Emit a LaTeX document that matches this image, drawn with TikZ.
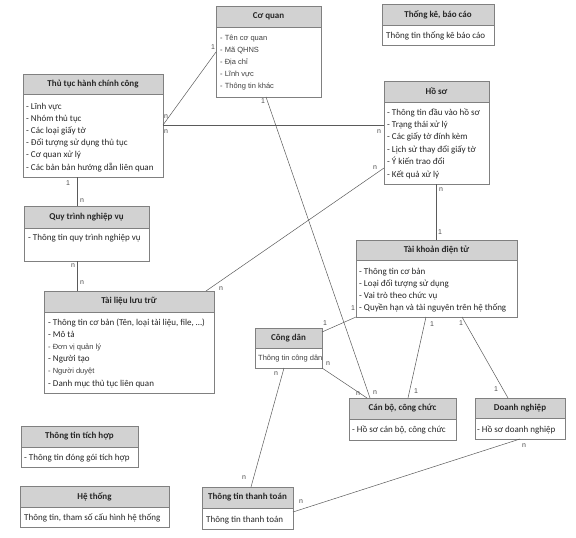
\documentclass[tikz,border=0pt]{standalone}
\usepackage{fontspec}
\setmainfont{Carlito}
\newfontfamily\thinfont{Liberation Sans}
\usepackage{tikz}
\usetikzlibrary{positioning}
\usepackage{xcolor}
\definecolor{hdrgray}{HTML}{D2D2D2}
\definecolor{boxgray}{HTML}{808080}
\definecolor{linegray}{HTML}{5A5A5A}
\newcommand\lite{\thinfont\fontsize{7.5}{9}\selectfont}

\begin{document}
\begin{tikzpicture}[x=1pt, y=-1pt,
  hdr/.style={draw=boxgray, fill=hdrgray, anchor=north west, inner sep=0pt, outer sep=0pt,
    font=\bfseries\fontsize{9}{11}\selectfont, text=black!85},
  bodybox/.style={draw=boxgray, fill=white, inner sep=0pt, outer sep=0pt},
  item/.style={anchor=base west, inner sep=0pt, font=\fontsize{9}{11}\selectfont, text=black!85},
  liteitem/.style={item, font=\lite, text=black!75},
  card/.style={inner sep=0pt, font=\thinfont\fontsize{7}{8}\selectfont, text=black!70},
  link/.style={draw=linegray, line width=0.5pt}]
\useasboundingbox (0,0) rectangle (576,538);

% Co quan
\node[hdr, minimum width=105, minimum height=21] (coquan) at (216,6) {Cơ quan};
\node[bodybox, minimum width=105, minimum height=70, below=0pt of coquan] (coquan-b) {};
\foreach \txt [count=\i] in {- Tên cơ quan, - Mã QHNS, - Địa chỉ, - Lĩnh vực, - Thông tin khác}
    \node[liteitem] (coquan-\i) at (220,28+\i*12) {\txt};

% Thong ke, bao cao
\node[hdr, minimum width=112, minimum height=21] (thongke) at (382,4) {Thống kê, báo cáo};
\node[bodybox, minimum width=112, minimum height=20, below=0pt of thongke] (thongke-b) {};
\node[item] (thongke-1) at (386,38) {Thông tin thống kê báo cáo};

% Thu tuc hanh chinh cong
\node[hdr, minimum width=140, minimum height=20] (thutuc) at (23,74) {Thủ tục hành chính công};
\node[bodybox, minimum width=140, minimum height=83, below=0pt of thutuc] (thutuc-b) {};
\foreach \txt [count=\i] in {- Lĩnh vực, - Nhóm thủ tục, - Các loại giấy tờ, - Đối tượng sử dụng thủ tục,
    - Cơ quan xử lý, - Các bản bản hướng dẫn liên quan}
    \node[item] (thutuc-\i) at (26,96.8+\i*12.2) {\txt};

% Ho so
\node[hdr, minimum width=105, minimum height=21] (hoso) at (384,81) {Hồ sơ};
\node[bodybox, minimum width=105, minimum height=82, below=0pt of hoso] (hoso-b) {};
\foreach \txt [count=\i] in {- Thông tin đầu vào hồ sơ, - Trạng thái xử lý, - Các giấy tờ đính kèm,
    - Lịch sử thay đổi giấy tờ, - Ý kiến trao đổi, - Kết quả xử lý}
    \node[item] (hoso-\i) at (387,102.6+\i*12.4) {\txt};

% Quy trinh nghiep vu
\node[hdr, minimum width=125, minimum height=22] (quytrinh) at (24,206) {Quy trình nghiệp vụ};
\node[bodybox, minimum width=125, minimum height=33, below=0pt of quytrinh] (quytrinh-b) {};
\node[item] (quytrinh-1) at (28,240) {- Thông tin quy trình nghiệp vụ};

% Tai lieu luu tru
\node[hdr, minimum width=170, minimum height=21] (tailieu) at (44,291) {Tài liệu lưu trữ};
\node[bodybox, minimum width=170, minimum height=81, below=0pt of tailieu] (tailieu-b) {};
\foreach \txt [count=\i] in {{- Thông tin cơ bản (Tên, loại tài liệu, file, \ldots)}, - Mô tả,
    {\lite\color{black!75}- Đơn vị quản lý}, - Người tạo, {\lite\color{black!75}- Người duyệt},
    - Danh mục thủ tục liên quan}
    \node[item] (tailieu-\i) at (48,312.8+\i*12.2) {\txt};

% Tai khoan dien tu
\node[hdr, minimum width=161, minimum height=20] (taikhoan) at (356,240) {Tài khoản điện tử};
\node[bodybox, minimum width=161, minimum height=57, below=0pt of taikhoan] (taikhoan-b) {};
\foreach \txt [count=\i] in {- Thông tin cơ bản, - Loại đối tượng sử dụng, - Vai trò theo chức vụ,
    - Quyền hạn và tài nguyên trên hệ thống}
    \node[item] (taikhoan-\i) at (359,261.7+\i*12.3) {\txt};

% Cong dan
\node[hdr, minimum width=67, minimum height=20] (congdan) at (255,328) {Công dân};
\node[bodybox, minimum width=67, minimum height=20, below=0pt of congdan] (congdan-b) {};
\node[liteitem] (congdan-1) at (258,360) {Thông tin công dân};

% Can bo, cong chuc
\node[hdr, minimum width=107, minimum height=21] (canbo) at (349,398) {Cán bộ, công chức};
\node[bodybox, minimum width=107, minimum height=21, below=0pt of canbo] (canbo-b) {};
\node[item] (canbo-1) at (352,432) {- Hồ sơ cán bộ, công chức};

% Doanh nghiep
\node[hdr, minimum width=90, minimum height=20] (doanhnghiep) at (475,398) {Doanh nghiệp};
\node[bodybox, minimum width=90, minimum height=21, below=0pt of doanhnghiep] (doanhnghiep-b) {};
\node[item] (doanhnghiep-1) at (477,432) {- Hồ sơ doanh nghiệp};

% Thong tin tich hop
\node[hdr, minimum width=117, minimum height=21] (tichhop) at (21,426) {Thông tin tích hợp};
\node[bodybox, minimum width=117, minimum height=20, below=0pt of tichhop] (tichhop-b) {};
\node[item] (tichhop-1) at (24,460) {- Thông tin đóng gói tích hợp};

% He thong
\node[hdr, minimum width=149, minimum height=21] (hethong) at (20,486) {Hệ thống};
\node[bodybox, minimum width=149, minimum height=20, below=0pt of hethong] (hethong-b) {};
\node[item] (hethong-1) at (24,520) {Thông tin, tham số cấu hình hệ thống};

% Thong tin thanh toan
\node[hdr, minimum width=91, minimum height=21] (thanhtoan) at (202,487) {Thông tin thanh toán};
\node[bodybox, minimum width=91, minimum height=21, below=0pt of thanhtoan] (thanhtoan-b) {};
\node[item] (thanhtoan-1) at (206,522) {Thông tin thanh toán};

% connectors
\coordinate (tt-out) at ([yshift=-31pt]thutuc-b.north east);
\draw[link] (tt-out) -- ([yshift=-25pt]coquan-b.north west);
\draw[link] (tt-out) -- (tt-out -| hoso-b.west);
\draw[link] ([xshift=50pt]coquan-b.south west) -- ([xshift=21pt]canbo.north west);
\draw[link] ([xshift=54pt]thutuc-b.south west) -- ([xshift=53pt]quytrinh.north west);
\draw[link] ([xshift=53pt]quytrinh-b.south west) -- ([xshift=33pt]tailieu.north west);
\draw[link] ([xshift=-8pt]tailieu.north east) -- ([yshift=-66pt]hoso-b.north west);
\draw[link] (hoso-b.south) -- (hoso-b.south |- taikhoan.north);
\draw[link] (taikhoan-b.south west) -- ([yshift=-4pt]congdan.north east);
\draw[link] (congdan-b.south east) -- ([xshift=18pt]canbo.north west);
\draw[link] ([xshift=70pt]taikhoan-b.south west) -- ([xshift=59pt]canbo.north west);
\draw[link] ([xshift=106pt]taikhoan-b.south west) -- ([xshift=33pt]doanhnghiep.north west);
\draw[link] ([xshift=29pt]congdan-b.south west) -- ([xshift=49pt]thanhtoan.north west);
\draw[link] ([xshift=45pt]doanhnghiep-b.south west) -- ([yshift=-4pt]thanhtoan-b.north east);

% multiplicities
\foreach \cx/\cy/\ct [count=\k] in {166/117/n, 213/47/1, 166/132/n, 379/132/n, 263/101/1, 375/393/n,
    68/183/1, 82/201/n, 73/266/n, 82/283/n, 221/289/n, 375/168/n, 441/190/n, 440/232/1,
    353/308/1, 325/323/1, 328/364/n, 358/394/n, 432/324/1, 416/391/1, 461/323/1, 496/389/1,
    276/374/n, 244/478/n, 524/446/n, 301/502/n}
    \node[card] (card-\k) at (\cx,\cy) {\ct};
\end{tikzpicture}
\end{document}
